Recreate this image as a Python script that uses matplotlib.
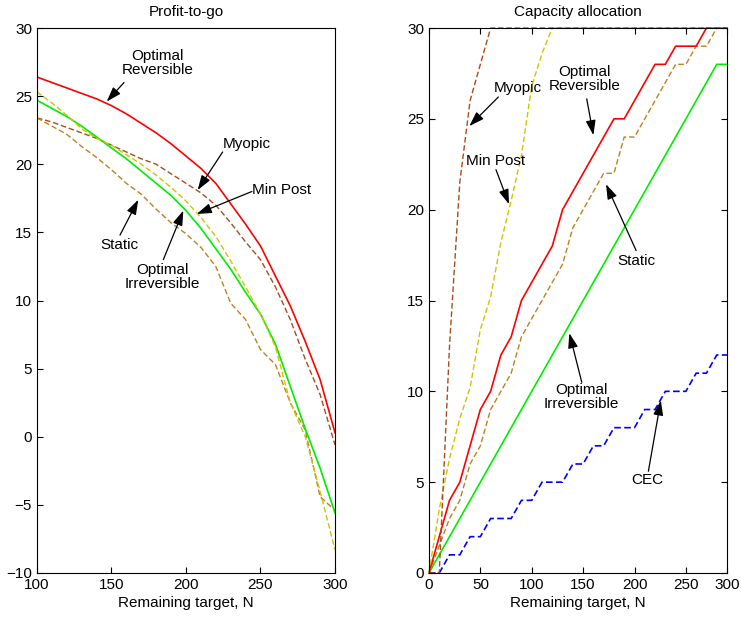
import numpy as np
import matplotlib.pyplot as plt

plt.rcParams['font.family'] = ['Liberation Sans', 'DejaVu Sans']

# ---- left panel: profit-to-go vs remaining target
n_left = list(range(100, 301, 10))
opt_rev = [26.4, 26.0, 25.6, 25.2, 24.8, 24.3, 23.7, 23.0, 22.3, 21.5, 20.6,
           19.7, 18.6, 17.1, 15.6, 14.0, 11.8, 9.6, 7.0, 4.2, 0.3]
opt_irr = [24.7, 24.1, 23.5, 22.8, 22.0, 21.2, 20.4, 19.5, 18.6, 17.7, 16.6,
           15.3, 13.8, 12.3, 10.6, 9.0, 6.8, 3.7, 0.6, -2.3, -5.6]
min_post = [25.3, 24.5, 23.6, 22.6, 21.9, 21.4, 20.7, 20.0, 19.2, 18.3, 17.3,
            16.1, 14.7, 12.9, 11.0, 9.0, 6.6, 2.5, 0.0, -4.0, -8.3]
static = [23.4, 22.8, 22.2, 21.3, 20.5, 19.6, 18.6, 17.8, 16.7, 15.7, 14.9,
          13.9, 12.5, 9.8, 8.6, 6.4, 5.3, 2.5, 0.5, -4.4, -5.4]
myopic = [23.4, 23.1, 22.7, 22.3, 21.9, 21.4, 20.9, 20.4, 20.0, 19.3, 18.6,
          17.9, 17.0, 15.7, 14.3, 13.0, 11.0, 8.6, 5.7, 3.1, -0.6]

# ---- right panel: capacity allocation
n_right = list(range(0, 291, 10))
cap_rev = [0, 2, 4, 5, 7, 9, 10, 12, 13, 15, 16, 17, 18, 20, 21, 22, 23, 24, 25, 25,
           26, 27, 28, 28, 29, 29, 29, 30, 30, 30]
cap_static = [0, 1.5, 3, 4, 6, 7, 9, 10, 11, 13, 14, 15, 16, 17, 19, 20, 21, 22, 22, 24,
              24, 25, 26, 27, 28, 28, 29, 29, 30, 30]
cap_irr = [0, 1, 2, 3, 4, 5, 6, 7, 8, 9, 10, 11, 12, 13, 14, 15, 16, 17, 18, 19,
           20, 21, 22, 23, 24, 25, 26, 27, 28, 28]
cap_minpost = [0, 3.5, 6.3, 8.5, 10.2, 13.4, 15.2, 18.2, 20.5, 23, 26.8, 28.6, 30, 30, 30,
               30, 30, 30, 30, 30, 30, 30, 30, 30, 30, 30, 30, 30, 30, 30]
cap_myopic = [0, 0, 12.5, 21.5, 26, 28, 30, 30, 30, 30, 30, 30, 30, 30, 30,
              30, 30, 30, 30, 30, 30, 30, 30, 30, 30, 30, 30, 30, 30, 30]
cap_cec = [0, 0, 1, 1, 2, 2, 3, 3, 3, 4, 4, 5, 5, 5, 6, 6, 7, 7, 8, 8,
           8, 9, 9, 10, 10, 10, 11, 11, 12, 12]

c_red = '#ff0000'
c_green = '#00ee00'
c_yellow = '#cfc400'
c_static = '#c08020'
c_myopic = '#a84c1c'
c_blue = '#0000ff'
dash = (4, 2)

fig = plt.figure(figsize=(7.41, 6.21), dpi=100)
ax1 = fig.add_axes([0.0499, 0.0773, 0.4022, 0.8776])
ax2 = fig.add_axes([0.5789, 0.0773, 0.4022, 0.8776])

arrow = dict(arrowstyle='-|>,head_length=0.9,head_width=0.3', color='k', lw=0.9,
             shrinkA=0, shrinkB=0)
tfs = 11

# left
ax1.plot(n_left, opt_rev, color=c_red, lw=1.2)
ax1.plot(n_left, myopic, color=c_myopic, lw=1.0, dashes=dash)
ax1.plot(n_left, static, color=c_static, lw=1.0, dashes=dash)
ax1.plot(n_left, opt_irr, color=c_green, lw=1.2)
ax1.plot(n_left, min_post, color=c_yellow, lw=1.0, dashes=dash)
ax1.set_xlim(100, 300)
ax1.set_ylim(-10, 30)
ax1.set_xticks(range(100, 301, 50))
ax1.set_yticks(range(-10, 31, 5))
ax1.tick_params(direction='in', labelsize=11, length=4)
ax1.set_title('Profit-to-go', fontsize=11, pad=9)
ax1.set_xlabel('Remaining target, N', fontsize=11, labelpad=3)

ax1.text(181, 27.4, 'Optimal\nReversible', ha='center', va='center', fontsize=tfs,
         linespacing=1.0)
ax1.annotate('', xy=(146.8, 24.6), xytext=(158.4, 26.0), arrowprops=arrow)
ax1.text(240.5, 21.5, 'Myopic', ha='center', va='center', fontsize=tfs)
ax1.annotate('', xy=(207.8, 18.1), xytext=(224.6, 20.9), arrowprops=arrow)
ax1.text(244.5, 18.1, 'Min Post', ha='left', va='center', fontsize=tfs)
ax1.annotate('', xy=(207.2, 16.35), xytext=(244.2, 18.0), arrowprops=arrow)
ax1.text(155.2, 14.1, 'Static', ha='center', va='center', fontsize=tfs)
ax1.annotate('', xy=(168, 17.4), xytext=(155.7, 14.8), arrowprops=arrow)
ax1.text(184.3, 11.7, 'Optimal\nIrreversible', ha='center', va='center', fontsize=tfs,
         linespacing=1.0)
ax1.annotate('', xy=(198.2, 16.6), xytext=(184.8, 13.0), arrowprops=arrow)

# right
ax2.plot(n_right, cap_cec, color=c_blue, lw=1.2, dashes=dash)
ax2.plot(n_right, cap_irr, color=c_green, lw=1.2, clip_on=False)
ax2.plot(n_right, cap_static, color=c_static, lw=1.0, dashes=dash, clip_on=False)
ax2.plot(n_right, cap_rev, color=c_red, lw=1.2, clip_on=False)
ax2.plot(n_right, cap_minpost, color=c_yellow, lw=1.0, dashes=dash, clip_on=False)
ax2.plot(n_right, cap_myopic, color=c_myopic, lw=1.0, dashes=dash, clip_on=False)
ax2.set_xlim(0, 290)
ax2.set_ylim(0, 30)
ax2.set_xticks([0, 50, 100, 150, 200, 250, 290])
ax2.set_xticklabels(['0', '50', '100', '150', '200', '250', '300'])
ax2.set_yticks(range(0, 31, 5))
ax2.tick_params(direction='in', labelsize=11, length=4, top=True, right=True)
ax2.set_title('Capacity allocation', fontsize=11, pad=9)
ax2.set_xlabel('Remaining target, N', fontsize=11, labelpad=3)

ax2.text(86.4, 26.7, 'Myopic', ha='center', va='center', fontsize=tfs)
ax2.annotate('', xy=(39.3, 24.6), xytext=(67.5, 26.2), arrowprops=arrow)
ax2.text(65.2, 22.7, 'Min Post', ha='center', va='center', fontsize=tfs)
ax2.annotate('', xy=(77.9, 20.3), xytext=(65.2, 22.2), arrowprops=arrow)
ax2.text(151.2, 27.2, 'Optimal\nReversible', ha='center', va='center', fontsize=tfs,
         linespacing=1.0)
ax2.annotate('', xy=(160, 24.1), xytext=(153.5, 26.1), arrowprops=arrow)
ax2.text(201.6, 17.2, 'Static', ha='center', va='center', fontsize=tfs)
ax2.annotate('', xy=(172.3, 21.4), xytext=(201.6, 17.75), arrowprops=arrow)
ax2.text(148.7, 9.7, 'Optimal\nIrreversible', ha='center', va='center', fontsize=tfs,
         linespacing=1.0)
ax2.annotate('', xy=(136.6, 13.2), xytext=(148.7, 10.5), arrowprops=arrow)
ax2.text(212, 5.1, 'CEC', ha='center', va='center', fontsize=tfs)
ax2.annotate('', xy=(225.6, 9.5), xytext=(213.5, 5.6), arrowprops=arrow)

fig.savefig('out.png', dpi=100)
